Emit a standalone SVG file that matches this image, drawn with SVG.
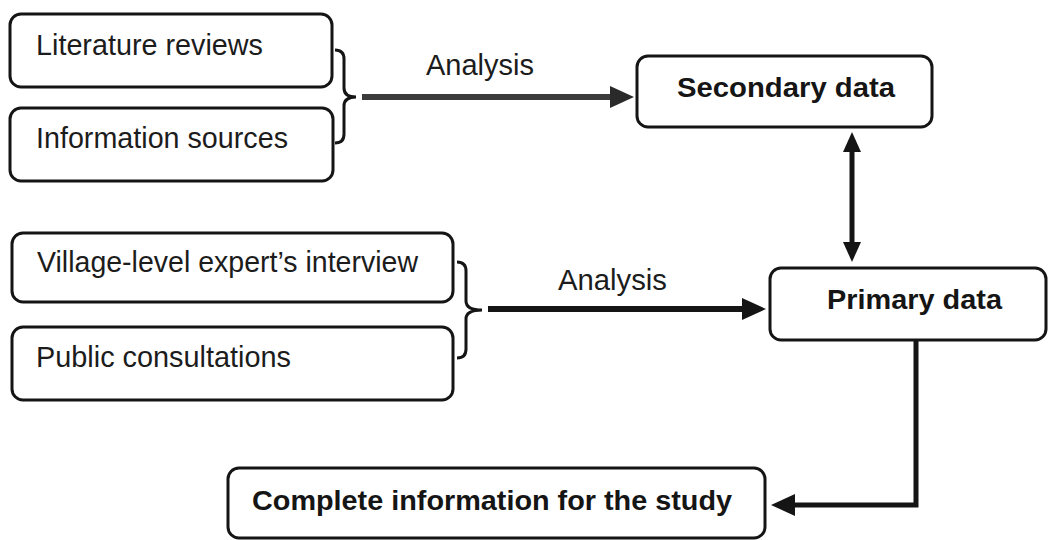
<svg xmlns="http://www.w3.org/2000/svg" width="1049" height="540" viewBox="0 0 1049 540">
<style>
.box{fill:#fff;stroke:#151515;stroke-width:3}
.t{font-family:"Liberation Sans",Arial,sans-serif;font-size:30px;fill:#1c1c1c}
.b{font-family:"Liberation Sans",Arial,sans-serif;font-size:28px;font-weight:bold;fill:#151515}
.brace{fill:none;stroke:#151515;stroke-width:3}
.conn{fill:none;stroke:#151515}
</style>
<defs>
<marker id="headGray" markerUnits="userSpaceOnUse" markerWidth="24" markerHeight="22" refX="0" refY="11" orient="auto"><path d="M0,0 L24,11 L0,22 z" fill="#2a2a2a"/></marker>
<marker id="head" markerUnits="userSpaceOnUse" markerWidth="24" markerHeight="22" refX="0" refY="11" orient="auto"><path d="M0,0 L24,11 L0,22 z" fill="#151515"/></marker>
<marker id="headV" markerUnits="userSpaceOnUse" markerWidth="20" markerHeight="18" refX="0" refY="9" orient="auto-start-reverse"><path d="M0,0 L20,9 L0,18 z" fill="#151515"/></marker>
</defs>
<rect width="1049" height="540" fill="#fff"/>
<g id="connectors">
<path class="brace" d="M335 50 Q344 50 344 59 L344 88 Q344 97 356 97 Q344 97 344 106 L344 134 Q344 143 335 143"/>
<path class="brace" d="M457 262 Q466 262 466 271 L466 301 Q466 310 482 310 Q466 310 466 319 L466 349 Q466 358 457 358"/>
<line x1="362" y1="97" x2="610" y2="97" stroke="#3c3c3c" stroke-width="6" marker-end="url(#headGray)"/>
<text class="t" x="426" y="75" textLength="108" lengthAdjust="spacingAndGlyphs">Analysis</text>
<line x1="488" y1="309" x2="742" y2="309" stroke="#151515" stroke-width="6" marker-end="url(#head)"/>
<text class="t" x="558" y="290" textLength="109" lengthAdjust="spacingAndGlyphs">Analysis</text>
<line class="conn" x1="852" y1="152" x2="852" y2="242" stroke-width="5" marker-start="url(#headV)" marker-end="url(#headV)"/>
<path class="conn" d="M916 340 V505 H795" stroke-width="5" marker-end="url(#head)"/>
</g>
<g id="lit">
<rect class="box" x="10" y="14" width="322" height="73" rx="11"/>
<text class="t" x="36" y="55" textLength="227" lengthAdjust="spacingAndGlyphs">Literature reviews</text>
</g>
<g id="info">
<rect class="box" x="10" y="108" width="323" height="73" rx="11"/>
<text class="t" x="36" y="148" textLength="252" lengthAdjust="spacingAndGlyphs">Information sources</text>
</g>
<g id="village">
<rect class="box" x="12" y="233" width="441" height="69" rx="11"/>
<text class="t" x="37" y="272" textLength="381" lengthAdjust="spacingAndGlyphs">Village-level expert’s interview</text>
</g>
<g id="public">
<rect class="box" x="12" y="327" width="441" height="73" rx="11"/>
<text class="t" x="36" y="367" textLength="255" lengthAdjust="spacingAndGlyphs">Public consultations</text>
</g>
<g id="secondary">
<rect class="box" x="637" y="56" width="295" height="71" rx="11"/>
<text class="b" x="677" y="97" textLength="218" lengthAdjust="spacingAndGlyphs">Secondary data</text>
</g>
<g id="primary">
<rect class="box" x="770" y="268" width="276" height="72" rx="11"/>
<text class="b" x="827" y="309" textLength="175" lengthAdjust="spacingAndGlyphs">Primary data</text>
</g>
<g id="complete">
<rect class="box" x="228" y="468" width="537" height="70" rx="11"/>
<text class="b" x="252" y="510" textLength="480" lengthAdjust="spacingAndGlyphs">Complete information for the study</text>
</g>
</svg>
